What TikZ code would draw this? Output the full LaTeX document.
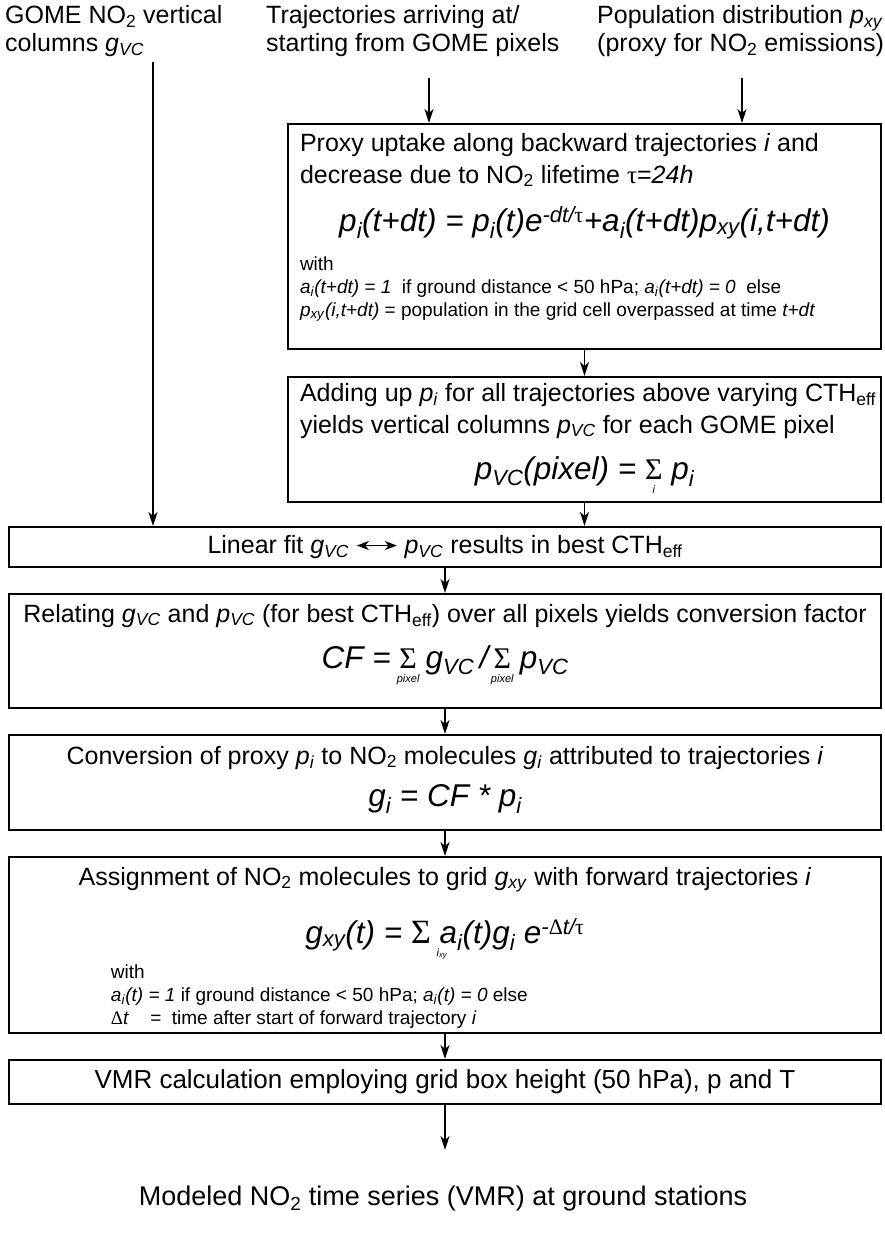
\documentclass[tikz,border=0pt]{standalone}
\usepackage{fontspec}
\setmainfont{Liberation Sans}
\newfontfamily\greekfont{Liberation Serif}
\usetikzlibrary{arrows.meta}
\tikzstyle{procbox} = [draw=black, line width=2pt, rectangle, inner sep=0pt, anchor=north west]
\tikzstyle{inputtxt} = [anchor=north west, align=left, inner sep=0pt, font=\fontsize{25}{28}\selectfont]
\tikzstyle{flow} = [-{Stealth[length=14pt, width=9pt, inset=4pt]}, line width=1.5pt]
\newcommand{\lo}[1]{\textsubscript{#1}}
\newcommand{\ilo}[1]{\textsubscript{\textit{#1}}}
\newcommand{\gtau}{{\greekfont\upshape τ}}
\newcommand{\gsum}{{\greekfont\upshape Σ}}
\newcommand{\gdelta}{{\greekfont\upshape Δ}}
\newcommand{\tinytxt}[1]{{\fontsize{11}{11}\selectfont\itshape #1}}
\newcommand{\sumunder}[1]{\setbox0\hbox{\fontsize{30}{30}\selectfont\gsum}%
  \makebox[\wd0][c]{\fontsize{30}{30}\selectfont\gsum}\kern-\wd0
  \makebox[\wd0][c]{\raisebox{-14pt}{\tinytxt{#1}}}}
\newcommand{\txtbig}{\fontsize{25}{31}\selectfont}
\newcommand{\txtsmall}{\fontsize{19}{23}\selectfont}
\newcommand{\formula}{\fontsize{31.5}{36}\selectfont\itshape}

\begin{document}
\begin{tikzpicture}[x=1pt,y=-1pt]
\useasboundingbox (0,0) rectangle (885,1236);
% inputs on top
\node[inputtxt] (gome) at (5,5) {GOME NO\lo{2} vertical\\columns \textit{g}\ilo{VC}};
\node[inputtxt] (traj) at (266,5) {Trajectories arriving at/\\starting from GOME pixels};
\node[inputtxt] (popu) at (597,5) {Population distribution \textit{p}\ilo{xy}\\(proxy for NO\lo{2} emissions)};
% processing chain
\node[procbox] (uptake) at (287,123) {\parbox[c][225pt][t]{593pt}{%
  \raggedright\leftskip=12pt
  \vspace*{9pt}
  {\fontsize{25}{32}\selectfont Proxy uptake along backward trajectories \textit{i} and\\
  decrease due to NO\lo{2} lifetime \gtau=\textit{24h}\par}
  \vspace*{12pt}
  {\centering\formula p\ilo{i}(t+dt) = p\ilo{i}(t)e\textsuperscript{-dt/\gtau}+a\ilo{i}(t+dt)p\ilo{xy}(i,t+dt)\par}
  \vspace*{16pt}
  {\txtsmall with\\
  \textit{a}\ilo{i}\textit{(t+dt) = 1}\ \ if ground distance < 50 hPa; \textit{a}\ilo{i}\textit{(t+dt) = 0}\ \ else\\
  \textit{p}\ilo{xy}\textit{(i,t+dt)} = population in the grid cell overpassed at time \textit{t+dt}\par}}};
\node[procbox] (columns) at (287,376) {\parbox[c][125pt][t]{593pt}{%
  \raggedright\leftskip=12pt
  \vspace*{6pt}
  {\fontsize{25}{32}\selectfont Adding up \textit{p}\ilo{i} for all trajectories above varying CTH\lo{eff}\\
  yields vertical columns \textit{p}\ilo{VC} for each GOME pixel\par}
  \vspace*{10pt}
  {\centering\formula p\ilo{VC}(pixel) = \sumunder{i} p\ilo{i}\par}}};
\node[procbox] (linfit) at (8,526) {\parbox[c][40pt][c]{872pt}{\centering\txtbig
  Linear fit \textit{g}\ilo{VC}
  \tikz[baseline=-0.6ex]\draw[{Stealth[length=12pt, width=9pt, inset=3.5pt]}-{Stealth[length=12pt, width=9pt, inset=3.5pt]}, line width=1.5pt] (0,0) -- (40pt,0);\
  \textit{p}\ilo{VC} results in best CTH\lo{eff}}};
\node[procbox] (factor) at (8,593) {\parbox[c][114pt][t]{872pt}{\centering
  \vspace*{10pt}
  {\txtbig Relating \textit{g}\ilo{VC} and \textit{p}\ilo{VC} (for best CTH\lo{eff}) over all pixels yields conversion factor\par}
  \vspace*{10pt}
  {\formula CF = \sumunder{pixel} g\ilo{VC}\,/\,\sumunder{pixel} p\ilo{VC}\par}}};
\node[procbox] (convert) at (8,734) {\parbox[c][95pt][t]{872pt}{\centering
  \vspace*{11pt}
  {\txtbig Conversion of proxy \textit{p}\ilo{i} to NO\lo{2} molecules \textit{g}\ilo{i} attributed to trajectories \textit{i}\par}
  \vspace*{6pt}
  {\formula g\ilo{i} = CF * p\ilo{i}\par}}};
\node[procbox] (assign) at (8,856) {\parbox[c][176pt][t]{872pt}{%
  \vspace*{10pt}
  {\centering\txtbig Assignment of NO\lo{2} molecules to grid \textit{g}\ilo{xy} with forward trajectories \textit{i}\par}
  \vspace*{22pt}
  {\centering\formula g\ilo{xy}(t) = {\fontsize{34}{34}\selectfont\gsum}
   \makebox[0pt][l]{\kern-3pt\raisebox{-13pt}{\tinytxt{i\textsubscript{xy}}}}a\ilo{i}(t)g\ilo{i} e\textsuperscript{-\gdelta t/\gtau}\par}
  \vspace*{4pt}
  {\txtsmall\raggedright\leftskip=102pt with\\
  \textit{a}\ilo{i}\textit{(t) = 1} if ground distance < 50 hPa; \textit{a}\ilo{i}\textit{(t) = 0} else\\
  \gdelta\textit{t}\ \ \ \ =\ \ time after start of forward trajectory \textit{i}\par}}};
\node[procbox] (vmr) at (8,1059) {\parbox[c][44pt][c]{872pt}{\centering\fontsize{26}{31}\selectfont
  VMR calculation employing grid box height (50 hPa), p and T}};
\node[anchor=center, inner sep=0pt, font=\fontsize{27}{31}\selectfont] (result) at (443,1199) {Modeled NO\lo{2} time series (VMR) at ground stations};
% connectors
\coordinate (gomeend) at (153,62);
\coordinate (trajend) at (429,78);
\coordinate (popuend) at (742,78);
\coordinate (resultin) at (444,1150);
\draw[flow] (gomeend) -- (gomeend |- linfit.north);
\draw[flow] (trajend) -- (trajend |- uptake.north);
\draw[flow] (popuend) -- (popuend |- uptake.north);
\draw[flow] (uptake) -- (columns);
\draw[flow] (columns.south) -- (columns.south |- linfit.north);
\draw[flow] (linfit) -- (factor);
\draw[flow] (factor) -- (convert);
\draw[flow] (convert) -- (assign);
\draw[flow] (assign) -- (vmr);
\draw[flow] (vmr.south) -- (vmr.south |- resultin);
\end{tikzpicture}
\end{document}
